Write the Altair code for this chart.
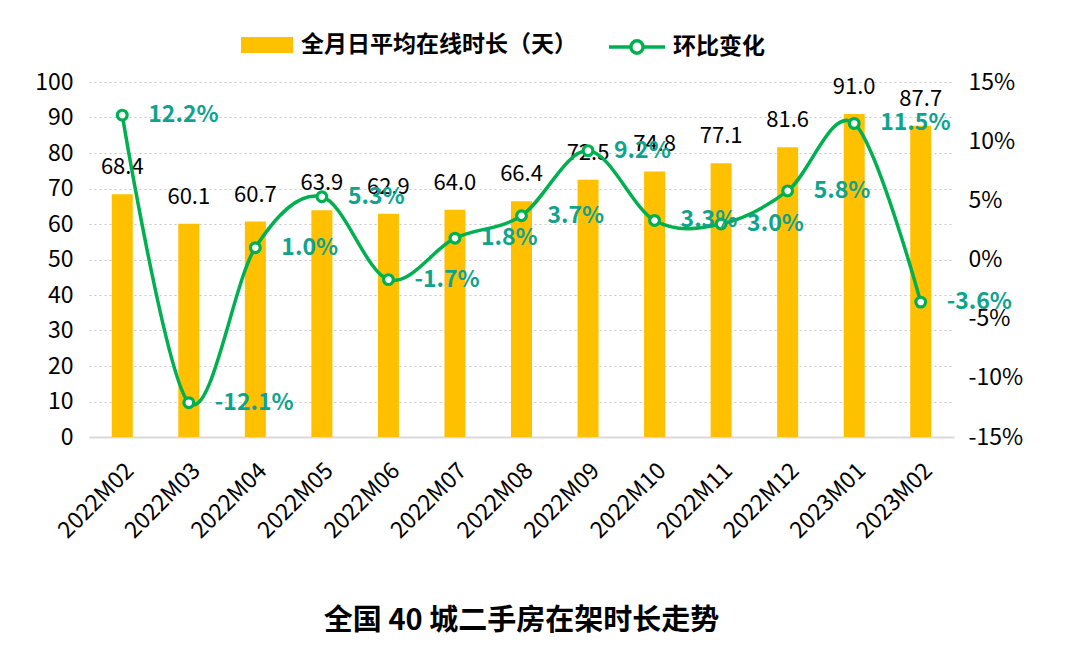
import altair as alt
import pandas as pd

months = ["2022M02", "2022M03", "2022M04", "2022M05", "2022M06", "2022M07", "2022M08",
          "2022M09", "2022M10", "2022M11", "2022M12", "2023M01", "2023M02"]
days = [68.4, 60.1, 60.7, 63.9, 62.9, 64.0, 66.4, 72.5, 74.8, 77.1, 81.6, 91.0, 87.7]
mom = [12.2, -12.1, 1.0, 5.3, -1.7, 1.8, 3.7, 9.2, 3.3, 3.0, 5.8, 11.5, -3.6]
left_ticks = [0, 10, 20, 30, 40, 50, 60, 70, 80, 90, 100]
right_ticks = [-15, -10, -5, 0, 5, 10, 15]

bar_name = "全月日平均在线时长（天）"
line_name = "环比变化"

df = pd.DataFrame({
    "month": months,
    "days": days,
    "mom": mom,
    "bar_s": [bar_name] * len(months),
    "line_s": [line_name] * len(months),
})
df["days_lbl"] = [f"{v:.1f}" for v in days]
df["mom_lbl"] = [f"{v:.1f}%" for v in mom]

FONT = "Noto Sans CJK SC"
YELLOW = "#FFC000"
GREEN = "#00B050"
TEAL = "#0FA38E"

x = alt.X("month:N", sort=months, title=None,
          scale=alt.Scale(paddingInner=0.69, paddingOuter=0.345),
          axis=alt.Axis(labelAngle=-45, labelFontSize=23, labelColor="#000000",
                        labelFont=FONT, domainColor="#D9D9D9", domainWidth=2,
                        ticks=False, labelPadding=22))

left_scale = alt.Scale(domain=[0, 100], nice=False)
y_left = alt.Y("days:Q", title=None, scale=left_scale,
               axis=alt.Axis(values=left_ticks, labelFontSize=23,
                             labelColor="#000000", labelFont=FONT, domain=False,
                             ticks=False, labelPadding=16, grid=True,
                             gridColor="#C8C8C8", gridDash=[2, 3], gridWidth=1.2))

bars = alt.Chart(df).mark_bar(size=21).encode(
    x=x,
    y=y_left,
    fill=alt.Fill("bar_s:N", title=None,
                  scale=alt.Scale(domain=[bar_name], range=[YELLOW]),
                  legend=alt.Legend(orient="none", legendX=152, legendY=-63,
                                    symbolType="M-1,-0.3077H1V0.3077H-1Z",
                                    symbolSize=2704, symbolStrokeWidth=0,
                                    labelFontSize=23, labelFontWeight="bold",
                                    labelFont=FONT, labelColor="#000000",
                                    labelLimit=500, labelOffset=8)),
)

bar_text = alt.Chart(df).mark_text(baseline="alphabetic", dy=-20, fontSize=22,
                                   font=FONT, color="#000000").encode(
    x=x,
    y=y_left,
    text="days_lbl:N",
)

left = alt.layer(bars, bar_text)

right_scale = alt.Scale(domain=[-15, 15], nice=False)
y_right = alt.Y("mom:Q", title=None, scale=right_scale,
                axis=alt.Axis(orient="right", values=right_ticks,
                              labelExpr="datum.value + '%'", labelFontSize=23,
                              labelColor="#000000", labelFont=FONT, domain=False,
                              ticks=False, grid=False, labelPadding=14))

line = alt.Chart(df).mark_line(interpolate="cardinal", strokeWidth=3.5).encode(
    x=x,
    y=y_right,
    stroke=alt.Stroke("line_s:N", title=None,
                      scale=alt.Scale(domain=[line_name], range=[GREEN]),
                      legend=alt.Legend(orient="none", legendX=518, legendY=-65,
                                        symbolType="M-1,0H-0.22M0.22,0H1M0.22,0A0.22,0.22 0 1,1 -0.22,0A0.22,0.22 0 1,1 0.22,0",
                                        symbolSize=3136, symbolStrokeWidth=3.5,
                                        symbolFillColor="white",
                                        labelFontSize=23, labelFontWeight="bold",
                                        labelFont=FONT, labelColor="#000000",
                                        labelLimit=500, labelOffset=6)),
)

points = alt.Chart(df).mark_point(shape="circle", size=95, filled=True, fill="white",
                                  stroke=GREEN, strokeWidth=3.2, opacity=1).encode(
    x=x,
    y=y_right,
)

pct_text = alt.Chart(df).mark_text(align="left", baseline="middle", dx=26, fontSize=23,
                                   fontWeight="bold", font=FONT, color=TEAL).encode(
    x=x,
    y=y_right,
    text="mom_lbl:N",
)

right = alt.layer(line, points, pct_text)

chart = alt.layer(left, right).resolve_scale(
    y="independent", fill="independent", stroke="independent"
).resolve_legend(fill="independent", stroke="independent").properties(
    width=865,
    height=355,
    padding={"left": 81, "top": 74, "right": 110, "bottom": 200},
    autosize=alt.AutoSizeParams(type="none"),
    title=alt.TitleParams("全国 40 城二手房在架时长走势", orient="bottom", fontSize=29,
                          fontWeight="bold", font=FONT, color="#000000", offset=64,
                          anchor="middle"),
).configure_view(stroke=None)

chart.save("out.html", embed_options={"renderer": "svg", "actions": False})
